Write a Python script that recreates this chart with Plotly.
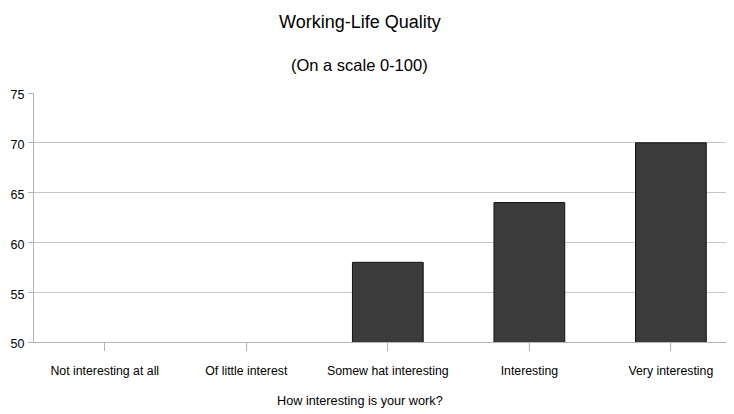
import plotly.graph_objects as go

categories = ["Not interesting at all", "Of little interest", "Somew hat interesting", "Interesting", "Very interesting"]
values = [44, 48, 58, 64, 70]
y_ticks = [50, 55, 60, 65, 70, 75]

FONT = "Liberation Sans Narrow, Arial Narrow, Liberation Sans, Arial, sans-serif"

fig = go.Figure()
fig.add_trace(go.Bar(
    x=list(range(len(categories))), y=values, width=0.5,
    marker=dict(color="#3b3b3b", line=dict(color="#111111", width=1)),
    hoverinfo="skip",
))

fig.update_layout(
    width=726, height=406,
    margin=dict(l=26, r=0, t=85, b=72),
    paper_bgcolor="white", plot_bgcolor="white",
    showlegend=False,
    font=dict(family=FONT, color="#000000", size=12),
    xaxis=dict(
        range=[-0.5, 4.446], tickmode="array",
        tickvals=list(range(len(categories))), ticktext=categories,
        showgrid=False, showline=True, linecolor="#b3b3b3", linewidth=1,
        ticks="outside", ticklen=8, tickcolor="#b3b3b3",
        ticklabelstandoff=9,
        tickfont=dict(family=FONT, size=12.3, color="#000000"),
        zeroline=False,
    ),
    yaxis=dict(
        range=[50, 75], tickmode="array", tickvals=y_ticks,
        showgrid=True, gridcolor="#c6c6c6", gridwidth=1,
        showline=True, linecolor="#b3b3b3", linewidth=1,
        ticks="outside", ticklen=5, tickcolor="#b3b3b3",
        ticklabelstandoff=1, ticklabelshift=2,
        tickfont=dict(family=FONT, size=12.5, color="#000000"),
        zeroline=False,
    ),
    annotations=[
        dict(text="Working-Life Quality", x=0.4657, xref="paper", y=1.2851, yref="paper",
             xanchor="center", yanchor="middle", showarrow=False,
             font=dict(family=FONT, size=18, color="#000000")),
        dict(text="(On a scale 0-100)", x=0.4657, xref="paper", y=1.1124, yref="paper",
             xanchor="center", yanchor="middle", showarrow=False,
             font=dict(family=FONT, size=16.5, color="#000000")),
        dict(text="How interesting is your work?", x=0.4657, xref="paper", y=-0.237, yref="paper",
             xanchor="center", yanchor="middle", showarrow=False,
             font=dict(family=FONT, size=12.7, color="#000000")),
    ],
)

fig.write_html("out.html")
